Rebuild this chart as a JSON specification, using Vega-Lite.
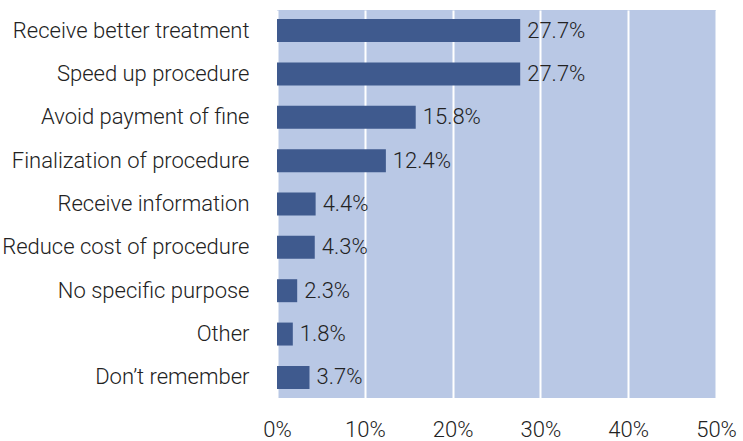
{
  "$schema": "https://vega.github.io/schema/vega-lite/v6.json",
  "width": 439,
  "height": 388,
  "autosize": {"type": "none"},
  "padding": {"left": 277, "top": 10, "right": 27, "bottom": 43},
  "background": "white",
  "data": {"values": [
    {"purpose": "Receive better treatment", "pct": 27.7},
    {"purpose": "Speed up procedure", "pct": 27.7},
    {"purpose": "Avoid payment of fine", "pct": 15.8},
    {"purpose": "Finalization of procedure", "pct": 12.4},
    {"purpose": "Receive information", "pct": 4.4},
    {"purpose": "Reduce cost of procedure", "pct": 4.3},
    {"purpose": "No specific purpose", "pct": 2.3},
    {"purpose": "Other", "pct": 1.8},
    {"purpose": "Don’t remember", "pct": 3.7}
  ]},
  "config": {
    "view": {"fill": "#b9c8e5", "stroke": null},
    "font": "Roboto",
    "axis": {"labelFont": "Roboto", "labelFontWeight": 300, "labelColor": "#222222", "labelFontSize": 22, "domain": false, "ticks": false, "title": null}
  },
  "encoding": {
    "y": {"field": "purpose", "type": "nominal", "sort": null,
      "scale": {"paddingInner": 0.47, "paddingOuter": 0.21},
      "axis": {"labelPadding": 28, "grid": false, "labelLimit": 300}},
    "x": {"field": "pct", "type": "quantitative",
      "scale": {"domain": [0, 50], "nice": false},
      "axis": {"values": [0, 10, 20, 30, 40, 50], "labelExpr": "datum.value + '%'", "labelPadding": 21, "grid": true, "gridColor": "white", "gridWidth": 2, "gridOpacity": 1, "labelFlush": false}}
  },
  "layer": [
    {"mark": {"type": "bar", "color": "#3f5a8e"}},
    {"transform": [{"calculate": "format(datum.pct, '.1f') + '%'", "as": "label"}],
     "mark": {"type": "text", "align": "left", "baseline": "middle", "dx": 7, "fontSize": 22, "font": "Roboto", "fontWeight": 300, "color": "#222222"},
     "encoding": {"text": {"field": "label", "type": "nominal"}}}
  ]
}
